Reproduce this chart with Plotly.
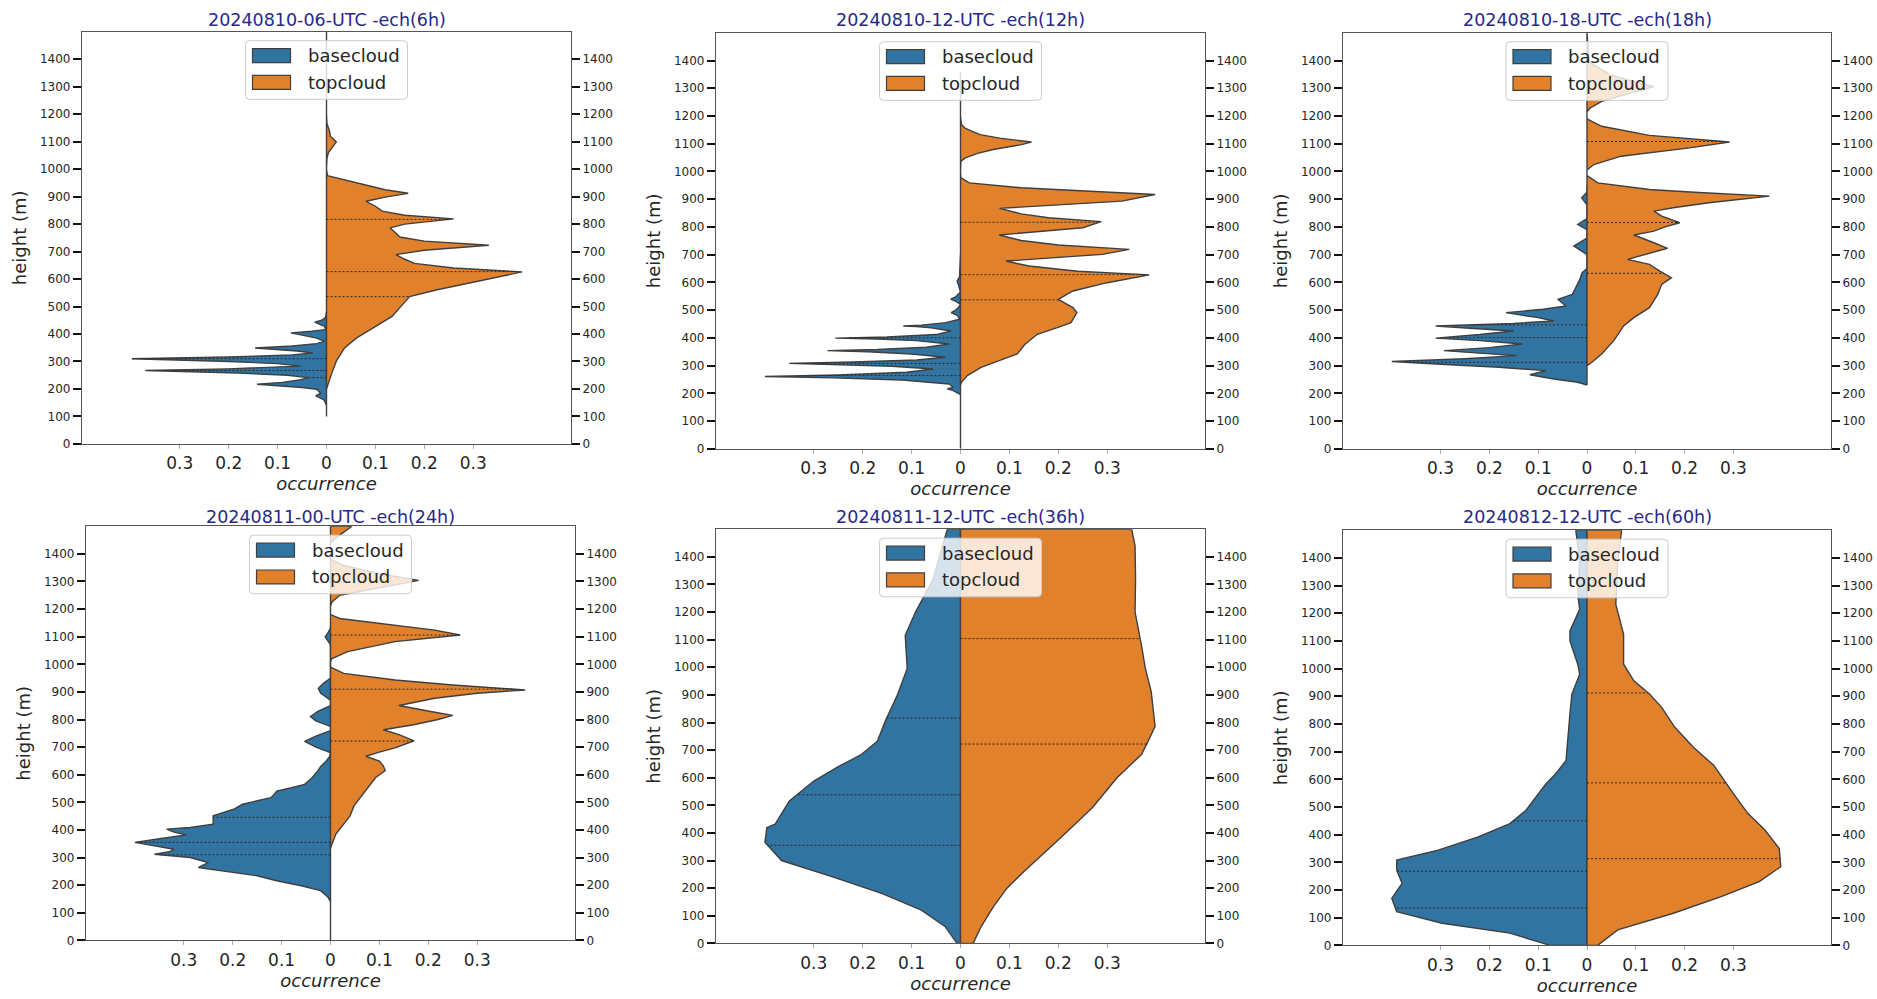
import numpy as np
import plotly.graph_objects as go

W, H = 1877, 999

titles = ["20240810-06-UTC -ech(6h)", "20240810-12-UTC -ech(12h)", "20240810-18-UTC -ech(18h)",
          "20240811-00-UTC -ech(24h)", "20240811-12-UTC -ech(36h)", "20240812-12-UTC -ech(60h)"]
series_names = ["basecloud", "topcloud"]
height_ticks = list(range(0, 1500, 100))
occ_tickvals = [-0.3, -0.2, -0.1, 0, 0.1, 0.2, 0.3]
occ_ticktext = ["0.3", "0.2", "0.1", "0", "0.1", "0.2", "0.3"]

# ---- panel 1 : 20240810-06 ----
p1_base_h = [100, 140, 160, 168, 175, 185, 199, 205, 212, 217, 224, 233, 241, 250, 258, 267, 273, 283, 292, 300,
             310, 316, 324, 331, 338, 345, 349, 356, 365, 373, 385, 396, 404, 410, 416, 428, 436, 443, 450, 460, 480]
p1_base_d = [0, 0, 0.005, 0.015, 0.022, 0.012, 0.02, 0.05, 0.10, 0.142, 0.09, 0.055, 0.037, 0.08, 0.18, 0.37, 0.2, 0.053, 0.1, 0.2,
             0.398, 0.2, 0.07, 0.028, 0.06, 0.11, 0.146, 0.07, 0.02, 0.004, 0.02, 0.05, 0.073, 0.03, 0.002, 0.004, 0.015, 0.024, 0.01, 0.002, 0]
p1_top_h = [200, 211, 253, 301, 349, 385, 428, 464, 506, 536, 560, 590, 626, 640, 657, 672, 689, 705, 723, 738,
            753, 770, 786, 800, 819, 832, 847, 865, 883, 898, 912, 925, 940, 960, 976, 1000, 1040, 1060, 1080, 1099,
            1120, 1140, 1165, 1200, 1500]
p1_top_d = [0, 0.002, 0.01, 0.02, 0.037, 0.061, 0.10, 0.134, 0.155, 0.17, 0.224, 0.305, 0.40, 0.26, 0.18, 0.16, 0.142, 0.2, 0.332, 0.2,
            0.15, 0.14, 0.13, 0.16, 0.26, 0.16, 0.114, 0.1, 0.081, 0.12, 0.167, 0.12, 0.085, 0.04, 0.002, 0, 0.001, 0.004, 0.012, 0.02,
            0.008, 0.006, 0.001, 0, 0]
p1_base_q = [241, 267, 310]
p1_top_q = [536, 627, 817]

# ---- panel 2 : 20240810-12 ----
p2_base_h = [0, 195, 210, 216, 222, 234, 248, 256, 261, 266, 276, 288, 298, 304, 308, 313, 320, 330, 342, 350,
             354, 358, 366, 378, 390, 396, 399, 403, 412, 425, 436, 441, 443, 446, 455, 467, 480, 491, 500, 510,
             521, 532, 540, 548, 565, 590, 605, 620, 700]
p2_base_d = [0, 0, 0.015, 0.027, 0.015, 0.023, 0.12, 0.26, 0.40, 0.25, 0.11, 0.056, 0.14, 0.24, 0.35, 0.22, 0.09, 0.031, 0.1, 0.19,
             0.272, 0.17, 0.07, 0.023, 0.09, 0.17, 0.256, 0.15, 0.05, 0.019, 0.06, 0.09, 0.117, 0.08, 0.03, 0.002, 0.006, 0.019, 0.01, 0.004,
             0, 0.01, 0.02, 0.01, 0, 0.004, 0.007, 0.002, 0]
p2_top_h = [230, 240, 264, 294, 318, 342, 377, 413, 437, 455, 491, 509, 539, 569, 599, 627, 640, 659, 677, 701,
            719, 735, 751, 771, 797, 819, 833, 847, 867, 893, 917, 930, 941, 959, 977, 1000, 1037, 1049, 1065, 1079,
            1095, 1106, 1120, 1133, 1155, 1169, 1200, 1360]
p2_top_d = [0, 0.002, 0.014, 0.042, 0.079, 0.116, 0.132, 0.157, 0.198, 0.226, 0.238, 0.23, 0.20, 0.23, 0.30, 0.386, 0.24, 0.14, 0.093, 0.29,
            0.345, 0.2, 0.124, 0.079, 0.25, 0.288, 0.18, 0.124, 0.08, 0.33, 0.398, 0.25, 0.124, 0.018, 0.001, 0, 0.001, 0.01, 0.035, 0.067,
            0.12, 0.145, 0.08, 0.04, 0.01, 0.002, 0, 0]
p2_base_q = [264, 308, 400]
p2_top_q = [537, 628, 817]

# ---- panel 3 : 20240810-18 ----
p3_base_h = [230, 240, 252, 267, 282, 294, 305, 315, 325, 336, 345, 354, 365, 378, 390, 399, 412, 425, 435, 443,
             452, 461, 473, 491, 503, 515, 539, 557, 581, 610, 635, 650, 700, 731, 760, 790, 809, 830, 880, 905,
             925, 950]
p3_base_d = [0, 0.019, 0.068, 0.117, 0.084, 0.18, 0.3, 0.40, 0.25, 0.145, 0.22, 0.293, 0.2, 0.133, 0.22, 0.31, 0.22, 0.15, 0.24, 0.31,
             0.15, 0.068, 0.10, 0.166, 0.09, 0.043, 0.06, 0.03, 0.023, 0.015, 0.01, 0, 0, 0.027, 0, 0, 0.019, 0, 0, 0.011,
             0, 0]
p3_top_h = [300, 312, 342, 390, 443, 473, 509, 557, 593, 617, 640, 665, 683, 700, 723, 743, 771, 785, 800, 815,
            839, 857, 870, 887, 911, 925, 935, 959, 985, 1005, 1025, 1055, 1085, 1106, 1118, 1130, 1163, 1190, 1215, 1228,
            1253, 1282, 1306, 1324, 1349, 1384, 1400, 1500]
p3_top_d = [0, 0.01, 0.03, 0.055, 0.075, 0.096, 0.128, 0.145, 0.153, 0.173, 0.15, 0.128, 0.083, 0.12, 0.165, 0.137, 0.096, 0.137, 0.16, 0.19,
            0.153, 0.137, 0.18, 0.25, 0.374, 0.22, 0.128, 0.022, 0, 0, 0.014, 0.07, 0.21, 0.292, 0.2, 0.128, 0.03, 0, 0, 0.006,
            0.03, 0.087, 0.137, 0.096, 0.047, 0.014, 0.004, 0]
p3_base_q = [312, 401, 447]
p3_top_q = [633, 816, 1108]

# ---- panel 4 : 20240811-00 ----
p4_base_h = [0, 140, 156, 180, 198, 216, 234, 252, 264, 282, 300, 312, 321, 330, 342, 355, 368, 382, 392, 403,
             409, 421, 435, 451, 463, 475, 493, 505, 517, 529, 541, 553, 565, 585, 607, 630, 649, 665, 680, 700,
             721, 740, 760, 775, 795, 811, 830, 850, 870, 895, 913, 930, 950, 1070, 1090, 1100, 1112, 1130, 1140]
p4_base_d = [0, 0, 0.005, 0.02, 0.06, 0.11, 0.15, 0.22, 0.27, 0.25, 0.287, 0.36, 0.33, 0.32, 0.36, 0.40, 0.35, 0.295, 0.32, 0.335,
             0.287, 0.24, 0.24, 0.24, 0.22, 0.198, 0.18, 0.15, 0.122, 0.115, 0.11, 0.08, 0.053, 0.04, 0.029, 0.02, 0.009, 0.002, 0, 0.03,
             0.053, 0.03, 0, 0, 0.03, 0.041, 0.025, 0, 0, 0.02, 0.025, 0.015, 0, 0, 0.007, 0.011, 0.006, 0, 0]
p4_top_h = [335, 348, 385, 421, 451, 487, 523, 553, 589, 615, 632, 649, 667, 682, 697, 723, 735, 745, 763, 781,
            800, 815, 829, 851, 877, 895, 907, 925, 943, 967, 990, 1010, 1021, 1046, 1082, 1106, 1124, 1148, 1166, 1180,
            1210, 1226, 1250, 1274, 1304, 1328, 1358, 1380, 1440, 1470, 1500]
p4_top_d = [0, 0.003, 0.011, 0.027, 0.04, 0.048, 0.064, 0.076, 0.092, 0.112, 0.108, 0.1, 0.072, 0.1, 0.132, 0.171, 0.155, 0.14, 0.108, 0.17,
            0.22, 0.25, 0.205, 0.14, 0.213, 0.3, 0.398, 0.25, 0.132, 0.027, 0, 0, 0.003, 0.035, 0.132, 0.265, 0.213, 0.10, 0.019, 0,
            0, 0.003, 0.019, 0.092, 0.18, 0.10, 0.027, 0, 0, 0.02, 0.044]
p4_base_q = [310, 355, 446]
p4_top_q = [722, 910, 1106]

# ---- panel 5 : 20240811-12 ----
p5_base_h = [0, 60, 120, 180, 240, 300, 366, 420, 432, 516, 588, 640, 684, 732, 804, 900, 996, 1116, 1200, 1320, 1500]
p5_base_d = [0.007, 0.031, 0.08, 0.16, 0.26, 0.366, 0.40, 0.396, 0.379, 0.35, 0.30, 0.25, 0.203, 0.17, 0.154, 0.129, 0.109, 0.113, 0.092, 0.056, 0.027]
p5_top_h = [0, 60, 132, 200, 264, 384, 492, 600, 684, 726, 786, 912, 996, 1080, 1200, 1320, 1440, 1500]
p5_top_d = [0.026, 0.042, 0.067, 0.095, 0.132, 0.206, 0.27, 0.32, 0.37, 0.382, 0.398, 0.39, 0.378, 0.37, 0.357, 0.358, 0.357, 0.35]
p5_base_q = [355, 538, 816]
p5_top_q = [722, 1104]

# ---- panel 6 : 20240812-12 ----
p6_base_h = [0, 44, 80, 122, 170, 224, 272, 308, 344, 392, 440, 488, 548, 584, 620, 668, 836, 908, 980, 1016,
             1100, 1136, 1214, 1268, 1388, 1500]
p6_base_d = [0.076, 0.158, 0.297, 0.39, 0.40, 0.379, 0.39, 0.39, 0.305, 0.223, 0.158, 0.125, 0.10, 0.084, 0.064, 0.043, 0.035, 0.031, 0.015, 0.019,
             0.035, 0.035, 0.015, 0.019, 0.015, 0.023]
p6_top_h = [0, 56, 116, 176, 230, 284, 350, 416, 476, 548, 650, 716, 788, 860, 908, 956, 1016, 1124, 1232, 1388, 1500]
p6_top_d = [0.022, 0.063, 0.177, 0.275, 0.353, 0.397, 0.394, 0.365, 0.33, 0.30, 0.26, 0.218, 0.18, 0.153, 0.128, 0.096, 0.075, 0.075, 0.059, 0.063, 0.071]
p6_base_q = [135, 268, 450]
p6_top_q = [313, 587, 912]

panels = [
    (p1_base_h, p1_base_d, p1_top_h, p1_top_d, p1_base_q, p1_top_q),
    (p2_base_h, p2_base_d, p2_top_h, p2_top_d, p2_base_q, p2_top_q),
    (p3_base_h, p3_base_d, p3_top_h, p3_top_d, p3_base_q, p3_top_q),
    (p4_base_h, p4_base_d, p4_top_h, p4_top_d, p4_base_q, p4_top_q),
    (p5_base_h, p5_base_d, p5_top_h, p5_top_d, p5_base_q, p5_top_q),
    (p6_base_h, p6_base_d, p6_top_h, p6_top_d, p6_base_q, p6_top_q),
]

# ---- styling / layout (pixel boxes of each axes: left, right, top, bottom) ----
boxes = [(82, 571, 32, 447), (716, 1205, 33, 452), (1343, 1831, 33, 452),
         (86, 575, 530, 947), (716, 1205, 533, 950), (1343, 1831, 534, 952)]
title_y = [20, 20, 20, 521, 521, 521]
COLORS = ["#3274a1", "#e1812c"]
EDGE = "#3f3f3f"
FONT = "DejaVu Sans"


def px(x):
    return x / W


def py(y):
    return 1 - y / H


def rounded_box(x0, y0, x1, y1, r):
    pts = [
        f"M{px(x0 + r)},{py(y0)}", f"L{px(x1 - r)},{py(y0)}", f"Q{px(x1)},{py(y0)} {px(x1)},{py(y0 + r)}",
        f"L{px(x1)},{py(y1 - r)}", f"Q{px(x1)},{py(y1)} {px(x1 - r)},{py(y1)}",
        f"L{px(x0 + r)},{py(y1)}", f"Q{px(x0)},{py(y1)} {px(x0)},{py(y1 - r)}",
        f"L{px(x0)},{py(y0 + r)}", f"Q{px(x0)},{py(y0)} {px(x0 + r)},{py(y0)}", "Z"]
    return " ".join(pts)


fig = go.Figure()
layout = dict(width=W, height=H, margin=dict(l=0, r=0, t=0, b=0),
              paper_bgcolor="white", plot_bgcolor="white", showlegend=False,
              font=dict(family=FONT, color="#262626"), annotations=[], shapes=[])

for i, (bh, bd, th, td, bq, tq) in enumerate(panels):
    n = i + 1
    xa = "x" if n == 1 else f"x{n}"
    ya = "y" if n == 1 else f"y{n}"
    ya2 = f"y{n + 6}"
    assert len(bh) == len(bd) and len(th) == len(td), n
    bh = np.array(bh, float); bd = np.array(bd, float)
    th = np.array(th, float); td = np.array(td, float)

    # split violin halves: closed outline including the centre edge
    for hh, dd, sgn, name, col in ((bh, bd, -1, series_names[0], COLORS[0]),
                                   (th, td, 1, series_names[1], COLORS[1])):
        xs = np.concatenate([[0], sgn * dd, [0, 0]])
        ys = np.concatenate([[hh[0]], hh, [hh[-1], hh[0]]])
        fig.add_trace(go.Scatter(x=xs, y=ys, fill="toself", fillcolor=col, mode="lines",
                                 line=dict(color=EDGE, width=1.4), name=name,
                                 xaxis=xa, yaxis=ya, hoverinfo="skip"))

    # quartile lines
    for qs, hh, dd, sgn in ((bq, bh, bd, -1), (tq, th, td, 1)):
        qx, qy = [], []
        for q in qs:
            w = float(np.interp(q, hh, dd))
            qx += [0, sgn * w, None]
            qy += [q, q, None]
        fig.add_trace(go.Scatter(x=qx, y=qy, mode="lines", line=dict(color="#2a2a2a", width=1, dash="2px,2px"),
                                 xaxis=xa, yaxis=ya, hoverinfo="skip"))
    # carrier for the right-hand height axis
    fig.add_trace(go.Scatter(x=[], y=[], xaxis=xa, yaxis=ya2, hoverinfo="skip"))

    l, r, t, b = boxes[i]
    xkey = "xaxis" if n == 1 else f"xaxis{n}"
    ykey = "yaxis" if n == 1 else f"yaxis{n}"
    layout[xkey] = dict(domain=[px(l), px(r)], anchor=ya, range=[-0.5, 0.5], tickvals=occ_tickvals, ticktext=occ_ticktext,
                        ticks="outside", ticklen=4, tickwidth=1, tickcolor="#aaaaaa",
                        tickfont=dict(size=17, color="#262626"), ticklabelstandoff=0,
                        showline=True, mirror=True, linecolor="#555555", linewidth=1.2,
                        showgrid=False, zeroline=False,
                        title=dict(text="<i>occurrence</i>", font=dict(size=18, color="#262626"), standoff=5))
    layout[ykey] = dict(domain=[py(b), py(t)], anchor=xa, range=[0, 1500], tickvals=height_ticks,
                        ticks="outside", ticklen=8, tickwidth=2, tickcolor="#111111",
                        tickfont=dict(size=12, color="#262626"),
                        showline=True, mirror=True, linecolor="#555555", linewidth=1.2,
                        showgrid=False, zeroline=False,
                        title=dict(text="height (m)", font=dict(size=18, color="#262626"), standoff=8))
    layout[f"yaxis{n + 6}"] = dict(overlaying=ya, side="right", anchor=xa, range=[0, 1500], tickvals=height_ticks,
                                   ticks="outside", ticklen=8, tickwidth=2, tickcolor="#111111",
                                   tickfont=dict(size=12, color="#262626"), showline=False,
                                   showgrid=False, zeroline=False)
    cx = (l + r) / 2
    layout["annotations"].append(dict(text=titles[i], x=px(cx), y=py(title_y[i]),
                                      xref="paper", yref="paper", xanchor="center", yanchor="middle",
                                      showarrow=False, font=dict(size=17.5, color="#28288a")))

    # legend box (upper centre)
    layout["shapes"].append(dict(type="path", path=rounded_box(cx - 81, t + 9, cx + 81, t + 68, 4),
                                 xref="paper", yref="paper", layer="above",
                                 fillcolor="rgba(255,255,255,0.8)", line=dict(color="#cccccc", width=1)))
    for k, (name, col) in enumerate(zip(series_names, COLORS)):
        y0 = t + 17 + 27 * k
        layout["shapes"].append(dict(type="rect", x0=px(cx - 74), x1=px(cx - 36), y0=py(y0), y1=py(y0 + 14),
                                     xref="paper", yref="paper", layer="above",
                                     fillcolor=col, line=dict(color=EDGE, width=1.2)))
        layout["annotations"].append(dict(text=name, x=px(cx - 21), y=py(y0 + 7), xref="paper", yref="paper",
                                          xanchor="left", yanchor="middle", showarrow=False,
                                          font=dict(size=18, color="#262626")))

fig.update_layout(**layout)
fig.write_html("out.html", config={"displayModeBar": False},
               post_script="document.body.style.margin='0';")
